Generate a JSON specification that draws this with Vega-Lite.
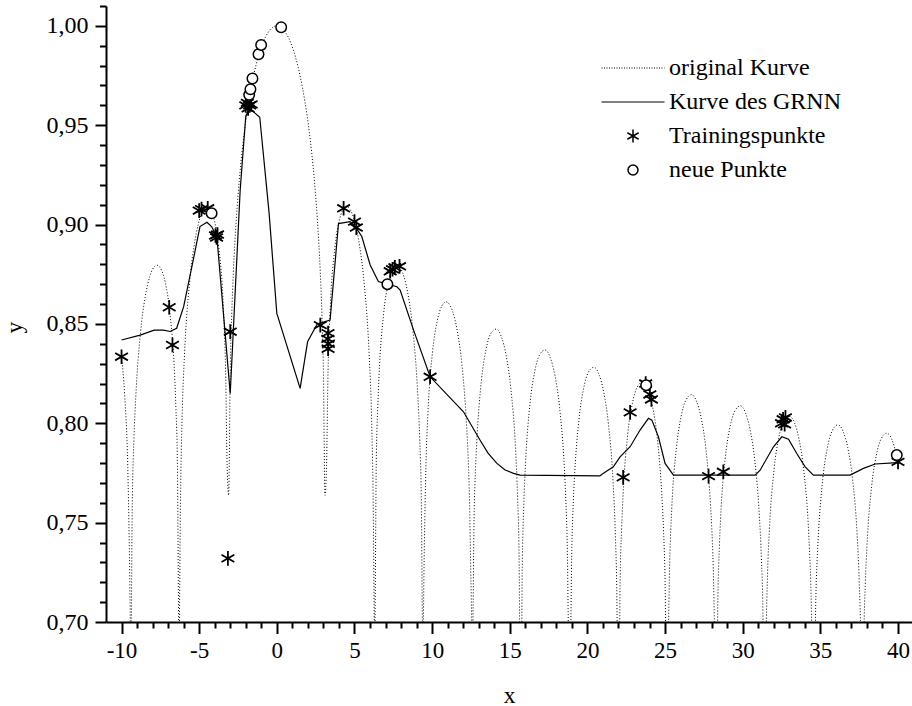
{
  "$schema": "https://vega.github.io/schema/vega-lite/v6.json",
  "width": 806,
  "height": 616,
  "autosize": {"type": "none"},
  "padding": {"left": 106, "top": 6, "right": 0, "bottom": 84},
  "background": "white",
  "config": {
    "view": {"stroke": null},
    "font": "Liberation Serif",
    "axis": {
      "domainColor": "black",
      "domainWidth": 2,
      "tickColor": "black",
      "tickWidth": 2,
      "labelColor": "black",
      "titleColor": "black",
      "labelFont": "Liberation Serif",
      "titleFont": "Liberation Serif",
      "titleFontWeight": "normal",
      "grid": false
    }
  },
  "datasets": {
    "original": [
      {"x": -10, "y": 0.8336}, {"x": -9.8, "y": 0.8144}, {"x": -9.6, "y": 0.7784}, {"x": -9.5, "y": 0.739}, {"x": -9.4, "y": 0.69}, {"x": -9.3, "y": 0.7637}, {"x": -9.2, "y": 0.7925},
      {"x": -9.08, "y": 0.8136}, {"x": -8.78, "y": 0.8455}, {"x": -8.48, "y": 0.8634}, {"x": -8.18, "y": 0.8739}, {"x": -7.85, "y": 0.8791}, {"x": -7.73, "y": 0.8796}, {"x": -7.48, "y": 0.8779}, {"x": -7.18, "y": 0.8707}, {"x": -6.88, "y": 0.8553}, {"x": -6.58, "y": 0.8237},
      {"x": -6.5, "y": 0.8082}, {"x": -6.4, "y": 0.7785}, {"x": -6.3, "y": 0.6905}, {"x": -6.2, "y": 0.7637}, {"x": -6.1, "y": 0.803},
      {"x": -5.94, "y": 0.8355}, {"x": -5.64, "y": 0.8692}, {"x": -5.34, "y": 0.8887}, {"x": -5.04, "y": 0.9007}, {"x": -4.71, "y": 0.9077}, {"x": -4.49, "y": 0.909}, {"x": -4.34, "y": 0.9083}, {"x": -4.04, "y": 0.9026}, {"x": -3.74, "y": 0.8885}, {"x": -3.44, "y": 0.8578},
      {"x": -3.3, "y": 0.8269}, {"x": -3.2, "y": 0.7786}, {"x": -3.1, "y": 0.7638}, {"x": -3.0, "y": 0.8261},
      {"x": -2.9, "y": 0.8556}, {"x": -2.8, "y": 0.8757}, {"x": -2.6, "y": 0.9038}, {"x": -2.4, "y": 0.9238}, {"x": -2.1, "y": 0.946}, {"x": -1.8, "y": 0.9623}, {"x": -1.5, "y": 0.9748}, {"x": -1.2, "y": 0.9843}, {"x": -0.9, "y": 0.9914}, {"x": -0.6, "y": 0.9962}, {"x": -0.3, "y": 0.9991},
      {"x": 0, "y": 1.0},
      {"x": 0.3, "y": 0.9991}, {"x": 0.6, "y": 0.9962}, {"x": 0.9, "y": 0.9914}, {"x": 1.2, "y": 0.9843}, {"x": 1.5, "y": 0.9748}, {"x": 1.8, "y": 0.9623}, {"x": 2.1, "y": 0.946}, {"x": 2.4, "y": 0.9238}, {"x": 2.6, "y": 0.9038}, {"x": 2.8, "y": 0.8757}, {"x": 2.9, "y": 0.8556},
      {"x": 3.0, "y": 0.8261}, {"x": 3.1, "y": 0.7638}, {"x": 3.2, "y": 0.7786}, {"x": 3.3, "y": 0.8269},
      {"x": 3.44, "y": 0.8578}, {"x": 3.74, "y": 0.8885}, {"x": 4.04, "y": 0.9026}, {"x": 4.34, "y": 0.9083}, {"x": 4.49, "y": 0.909}, {"x": 4.71, "y": 0.9077}, {"x": 5.04, "y": 0.9007}, {"x": 5.34, "y": 0.8887}, {"x": 5.64, "y": 0.8692}, {"x": 5.94, "y": 0.8355},
      {"x": 6.1, "y": 0.803}, {"x": 6.2, "y": 0.7637}, {"x": 6.3, "y": 0.6905}, {"x": 6.4, "y": 0.7785}, {"x": 6.5, "y": 0.8082},
      {"x": 6.58, "y": 0.8237}, {"x": 6.88, "y": 0.8553}, {"x": 7.18, "y": 0.8707}, {"x": 7.48, "y": 0.8779}, {"x": 7.73, "y": 0.8796}, {"x": 7.85, "y": 0.8791}, {"x": 8.18, "y": 0.8739}, {"x": 8.48, "y": 0.8634}, {"x": 8.78, "y": 0.8455}, {"x": 9.08, "y": 0.8136},
      {"x": 9.2, "y": 0.7925}, {"x": 9.3, "y": 0.7637}, {"x": 9.4, "y": 0.69}, {"x": 9.5, "y": 0.739}, {"x": 9.6, "y": 0.7784},
      {"x": 9.72, "y": 0.8038}, {"x": 10.02, "y": 0.8355}, {"x": 10.32, "y": 0.8512}, {"x": 10.62, "y": 0.8589}, {"x": 10.9, "y": 0.8611}, {"x": 11.0, "y": 0.8608}, {"x": 11.32, "y": 0.8563}, {"x": 11.62, "y": 0.8465}, {"x": 11.92, "y": 0.8295}, {"x": 12.22, "y": 0.7987},
      {"x": 12.3, "y": 0.7864}, {"x": 12.4, "y": 0.7636}, {"x": 12.5, "y": 0.7208}, {"x": 12.6, "y": 0.6905}, {"x": 12.7, "y": 0.7522}, {"x": 12.8, "y": 0.7782},
      {"x": 12.87, "y": 0.7899}, {"x": 13.17, "y": 0.8213}, {"x": 13.47, "y": 0.8371}, {"x": 13.77, "y": 0.8451}, {"x": 14.14, "y": 0.8474}, {"x": 14.47, "y": 0.8433}, {"x": 14.77, "y": 0.834}, {"x": 15.07, "y": 0.8174}, {"x": 15.37, "y": 0.7873},
      {"x": 15.5, "y": 0.7634}, {"x": 15.6, "y": 0.7328}, {"x": 15.7, "y": 0.6224}, {"x": 15.8, "y": 0.7249}, {"x": 15.9, "y": 0.7585},
      {"x": 16.01, "y": 0.7792}, {"x": 16.31, "y": 0.8104}, {"x": 16.61, "y": 0.8262}, {"x": 16.91, "y": 0.8343}, {"x": 17.28, "y": 0.8369}, {"x": 17.61, "y": 0.833}, {"x": 17.91, "y": 0.824}, {"x": 18.21, "y": 0.8078}, {"x": 18.51, "y": 0.7782},
      {"x": 18.6, "y": 0.7633}, {"x": 18.7, "y": 0.739}, {"x": 18.8, "y": 0.6899}, {"x": 18.9, "y": 0.6905}, {"x": 19.0, "y": 0.7389}, {"x": 19.1, "y": 0.7622},
      {"x": 19.15, "y": 0.7705}, {"x": 19.45, "y": 0.8015}, {"x": 19.75, "y": 0.8173}, {"x": 20.05, "y": 0.8255}, {"x": 20.42, "y": 0.8282}, {"x": 20.75, "y": 0.8245}, {"x": 21.05, "y": 0.8157}, {"x": 21.35, "y": 0.7998}, {"x": 21.65, "y": 0.7706},
      {"x": 21.8, "y": 0.7435}, {"x": 21.9, "y": 0.7099}, {"x": 22.0, "y": 0.6135}, {"x": 22.1, "y": 0.7173}, {"x": 22.2, "y": 0.7467},
      {"x": 22.29, "y": 0.7632}, {"x": 22.59, "y": 0.7941}, {"x": 22.89, "y": 0.8098}, {"x": 23.19, "y": 0.818}, {"x": 23.56, "y": 0.8208}, {"x": 23.89, "y": 0.8173}, {"x": 24.19, "y": 0.8086}, {"x": 24.49, "y": 0.793}, {"x": 24.79, "y": 0.7641},
      {"x": 24.9, "y": 0.7463}, {"x": 25.0, "y": 0.7207}, {"x": 25.1, "y": 0.6603}, {"x": 25.2, "y": 0.6905}, {"x": 25.3, "y": 0.7306},
      {"x": 25.43, "y": 0.757}, {"x": 25.73, "y": 0.7876}, {"x": 26.03, "y": 0.8033}, {"x": 26.33, "y": 0.8115}, {"x": 26.7, "y": 0.8144}, {"x": 27.03, "y": 0.811}, {"x": 27.33, "y": 0.8025}, {"x": 27.63, "y": 0.787}, {"x": 27.93, "y": 0.7585},
      {"x": 28.0, "y": 0.7484}, {"x": 28.1, "y": 0.7276}, {"x": 28.2, "y": 0.6899}, {"x": 28.3, "y": 0.6454}, {"x": 28.4, "y": 0.7125}, {"x": 28.5, "y": 0.7387},
      {"x": 28.57, "y": 0.7515}, {"x": 28.87, "y": 0.782}, {"x": 29.17, "y": 0.7977}, {"x": 29.47, "y": 0.8058}, {"x": 29.85, "y": 0.8088}, {"x": 30.17, "y": 0.8054}, {"x": 30.47, "y": 0.797}, {"x": 30.77, "y": 0.7817}, {"x": 31.07, "y": 0.7534},
      {"x": 31.2, "y": 0.7325}, {"x": 31.3, "y": 0.7047}, {"x": 31.4, "y": 0.6224}, {"x": 31.5, "y": 0.6904}, {"x": 31.6, "y": 0.7247},
      {"x": 31.72, "y": 0.7466}, {"x": 32.02, "y": 0.777}, {"x": 32.32, "y": 0.7926}, {"x": 32.62, "y": 0.8008}, {"x": 32.99, "y": 0.8037}, {"x": 33.32, "y": 0.8005}, {"x": 33.62, "y": 0.7922}, {"x": 33.92, "y": 0.777}, {"x": 34.22, "y": 0.7489},
      {"x": 34.3, "y": 0.7361}, {"x": 34.4, "y": 0.714}, {"x": 34.5, "y": 0.6705}, {"x": 34.6, "y": 0.6578}, {"x": 34.7, "y": 0.7092}, {"x": 34.8, "y": 0.7327},
      {"x": 34.86, "y": 0.7422}, {"x": 35.16, "y": 0.7724}, {"x": 35.46, "y": 0.788}, {"x": 35.76, "y": 0.7962}, {"x": 36.13, "y": 0.7992}, {"x": 36.46, "y": 0.796}, {"x": 36.76, "y": 0.7878}, {"x": 37.06, "y": 0.7727}, {"x": 37.36, "y": 0.7448},
      {"x": 37.5, "y": 0.7205}, {"x": 37.6, "y": 0.6899}, {"x": 37.7, "y": 0.5138}, {"x": 37.8, "y": 0.6904}, {"x": 37.9, "y": 0.7205},
      {"x": 38.0, "y": 0.7382}, {"x": 38.3, "y": 0.7683}, {"x": 38.6, "y": 0.7838}, {"x": 38.9, "y": 0.792}, {"x": 39.27, "y": 0.795}, {"x": 39.6, "y": 0.7919}, {"x": 39.9, "y": 0.7837}, {"x": 40.0, "y": 0.7796}
    ],
    "grnn": [
      {"x": -10.0, "y": 0.8419}, {"x": -8.8, "y": 0.8444}, {"x": -7.9, "y": 0.8469}, {"x": -7.3, "y": 0.8469}, {"x": -6.87, "y": 0.8462}, {"x": -6.45, "y": 0.8478},
      {"x": -6.0, "y": 0.8587}, {"x": -5.47, "y": 0.8788}, {"x": -4.95, "y": 0.899}, {"x": -4.5, "y": 0.9012}, {"x": -4.2, "y": 0.899}, {"x": -3.86, "y": 0.8939},
      {"x": -3.0, "y": 0.815}, {"x": -2.36, "y": 0.9174}, {"x": -2.0, "y": 0.9545}, {"x": -1.75, "y": 0.9585}, {"x": -1.1, "y": 0.954}, {"x": -0.5, "y": 0.906},
      {"x": 0.0, "y": 0.8553}, {"x": 1.5, "y": 0.8176}, {"x": 1.98, "y": 0.841}, {"x": 2.6, "y": 0.85}, {"x": 3.43, "y": 0.852}, {"x": 3.97, "y": 0.9005},
      {"x": 4.72, "y": 0.9015}, {"x": 5.1, "y": 0.8985}, {"x": 5.47, "y": 0.894}, {"x": 6.01, "y": 0.8797}, {"x": 6.54, "y": 0.8713}, {"x": 7.12, "y": 0.87},
      {"x": 7.73, "y": 0.8687}, {"x": 7.94, "y": 0.8671}, {"x": 8.8, "y": 0.847}, {"x": 9.87, "y": 0.8234}, {"x": 12.02, "y": 0.8058}, {"x": 13.09, "y": 0.7915},
      {"x": 13.6, "y": 0.785}, {"x": 14.17, "y": 0.7798}, {"x": 14.7, "y": 0.7765}, {"x": 15.24, "y": 0.7748}, {"x": 15.67, "y": 0.7739}, {"x": 20.8, "y": 0.7735},
      {"x": 21.03, "y": 0.7748}, {"x": 21.67, "y": 0.7781}, {"x": 22.1, "y": 0.7831}, {"x": 22.75, "y": 0.7882}, {"x": 23.39, "y": 0.7966}, {"x": 23.93, "y": 0.8025},
      {"x": 24.15, "y": 0.8016}, {"x": 24.57, "y": 0.7932}, {"x": 25.0, "y": 0.7798}, {"x": 25.54, "y": 0.7739}, {"x": 30.8, "y": 0.7739}, {"x": 31.12, "y": 0.7764},
      {"x": 31.98, "y": 0.7882}, {"x": 32.52, "y": 0.7932}, {"x": 32.95, "y": 0.792}, {"x": 33.48, "y": 0.7848}, {"x": 34.02, "y": 0.7781}, {"x": 34.55, "y": 0.7739},
      {"x": 36.92, "y": 0.7739}, {"x": 37.77, "y": 0.7773}, {"x": 38.53, "y": 0.7795}, {"x": 39.7, "y": 0.7801}, {"x": 40.0, "y": 0.7802}
    ],
    "training": [
      {"x": -10.0, "y": 0.8335}, {"x": -6.93, "y": 0.8584}, {"x": -6.72, "y": 0.8394}, {"x": -5.0, "y": 0.907}, {"x": -4.85, "y": 0.9078}, {"x": -4.45, "y": 0.9082},
      {"x": -3.95, "y": 0.8945}, {"x": -3.88, "y": 0.8935}, {"x": -3.82, "y": 0.895}, {"x": -3.0, "y": 0.8461}, {"x": -3.15, "y": 0.732},
      {"x": -2.0, "y": 0.96}, {"x": -1.9, "y": 0.9612}, {"x": -1.85, "y": 0.9585}, {"x": -1.75, "y": 0.96}, {"x": -1.65, "y": 0.9605},
      {"x": 2.8, "y": 0.8494}, {"x": 3.3, "y": 0.8454}, {"x": 3.28, "y": 0.8425}, {"x": 3.32, "y": 0.84}, {"x": 3.3, "y": 0.8375},
      {"x": 4.3, "y": 0.9082}, {"x": 5.0, "y": 0.9015}, {"x": 5.12, "y": 0.8985},
      {"x": 7.3, "y": 0.8765}, {"x": 7.45, "y": 0.8775}, {"x": 7.6, "y": 0.8785}, {"x": 7.9, "y": 0.879}, {"x": 9.87, "y": 0.8234},
      {"x": 22.3, "y": 0.7728}, {"x": 22.75, "y": 0.8055}, {"x": 23.75, "y": 0.82}, {"x": 24.02, "y": 0.8145}, {"x": 24.12, "y": 0.812},
      {"x": 27.8, "y": 0.7734}, {"x": 28.75, "y": 0.7756}, {"x": 32.5, "y": 0.8}, {"x": 32.6, "y": 0.802}, {"x": 32.75, "y": 0.803}, {"x": 32.7, "y": 0.7995},
      {"x": 40.0, "y": 0.7806}
    ],
    "neu": [
      {"x": -4.2, "y": 0.9057}, {"x": -1.78, "y": 0.9653}, {"x": -1.7, "y": 0.9681}, {"x": -1.57, "y": 0.9735}, {"x": -1.18, "y": 0.9857},
      {"x": -1.01, "y": 0.9904}, {"x": 0.28, "y": 0.9993}, {"x": 7.12, "y": 0.87}, {"x": 23.78, "y": 0.8192}, {"x": 39.92, "y": 0.784}
    ]
  },
  "encoding": {
    "x": {
      "field": "x", "type": "quantitative",
      "scale": {"domain": [-11, 40.9], "nice": false, "zero": false},
      "axis": {
        "values": [-10, -9, -8, -7, -6, -5, -4, -3, -2, -1, 0, 1, 2, 3, 4, 5, 6, 7, 8, 9, 10, 11, 12, 13, 14, 15, 16, 17, 18, 19, 20, 21, 22, 23, 24, 25, 26, 27, 28, 29, 30, 31, 32, 33, 34, 35, 36, 37, 38, 39, 40],
        "tickSize": {"condition": {"test": "datum.value % 5 === 0", "value": 11.5}, "value": 6},
        "labelFontSize": {"condition": {"test": "datum.value % 5 === 0", "value": 23}, "value": 1},
        "labelExpr": "datum.value % 5 === 0 ? '' + datum.value : ''",
        "labelOverlap": false,
        "labelBound": false,
        "labelFlush": false,
        "labelPadding": 6,
        "title": "x",
        "titleFontSize": 23.5,
        "titleBaseline": "alphabetic",
        "titleY": 80
      }
    },
    "y": {
      "field": "y", "type": "quantitative",
      "scale": {"domain": [0.7, 1.01], "nice": false, "zero": false},
      "axis": {
        "values": [0.7, 0.71, 0.72, 0.73, 0.74, 0.75, 0.76, 0.77, 0.78, 0.79, 0.8, 0.81, 0.82, 0.83, 0.84, 0.85, 0.86, 0.87, 0.88, 0.89, 0.9, 0.91, 0.92, 0.93, 0.94, 0.95, 0.96, 0.97, 0.98, 0.99, 1.0, 1.01],
        "tickSize": {"condition": {"test": "round(datum.value * 100) % 5 === 0", "value": 11}, "value": 6.5},
        "labelFontSize": {"condition": {"test": "round(datum.value * 100) % 5 === 0", "value": 24}, "value": 1},
        "labelExpr": "round(datum.value * 100) % 5 === 0 ? replace(format(datum.value, '.2f'), '.', ',') : ''",
        "labelOverlap": false,
        "labelBound": false,
        "labelFlush": false,
        "labelPadding": 7,
        "title": "y",
        "titleFontSize": 23.5,
        "titleAngle": -90,
        "titleBaseline": "alphabetic",
        "titleAlign": "center",
        "titleX": -85,
        "titleY": 321
      }
    }
  },
  "layer": [
    {
      "data": {"name": "original"},
      "mark": {"type": "line", "interpolate": "monotone", "clip": true, "strokeWidth": 1, "strokeDash": [1, 2]},
      "encoding": {
        "color": {
          "datum": "original Kurve", "type": "nominal",
          "scale": {"domain": ["original Kurve", "Kurve des GRNN", "Trainingspunkte", "neue Punkte"], "range": ["black", "black", "black", "black"]},
          "legend": {
            "orient": "none",
            "legendX": 515,
            "legendY": 50,
            "title": null,
            "symbolSize": 441,
            "labelOffset": 24,
            "labelLimit": 400,
            "labelFont": "Liberation Serif",
            "labelFontSize": 24,
            "labelColor": "black",
            "rowPadding": 10,
            "encode": {
              "symbols": {
                "update": {
                  "shape": {"signal": "datum.value === 'Trainingspunkte' ? 'M0,-1L0,1M-0.87,-0.5L0.87,0.5M-0.87,0.5L0.87,-0.5' : datum.value === 'neue Punkte' ? 'circle' : 'M-3,0L3,0'"},
                  "size": {"signal": "datum.value === 'Trainingspunkte' ? 170 : datum.value === 'neue Punkte' ? 100 : 441"},
                  "strokeDash": {"signal": "datum.value === 'original Kurve' ? [1, 1.5] : [100, 0]"},
                  "stroke": {"value": "black"},
                  "fill": {"signal": "datum.value === 'neue Punkte' ? 'white' : 'transparent'"},
                  "strokeWidth": {"signal": "datum.value === 'original Kurve' ? 1 : datum.value === 'Kurve des GRNN' ? 1.2 : 1.5"},
                  "opacity": {"value": 1}
                }
              }
            }
          }
        }
      }
    },
    {
      "data": {"name": "grnn"},
      "mark": {"type": "line", "clip": true, "strokeWidth": 1.2},
      "encoding": {
        "color": {"datum": "Kurve des GRNN", "type": "nominal"}
      }
    },
    {
      "data": {"name": "training"},
      "mark": {"type": "point", "shape": "M0,-1L0,1M-0.87,-0.5L0.87,0.5M-0.87,0.5L0.87,-0.5", "size": 215, "filled": false, "strokeWidth": 1.8, "opacity": 1},
      "encoding": {
        "color": {"datum": "Trainingspunkte", "type": "nominal"}
      }
    },
    {
      "data": {"name": "neu"},
      "mark": {"type": "point", "shape": "circle", "size": 110, "filled": false, "fill": "white", "strokeWidth": 1.5, "opacity": 1},
      "encoding": {
        "color": {"datum": "neue Punkte", "type": "nominal"}
      }
    }
  ]
}
